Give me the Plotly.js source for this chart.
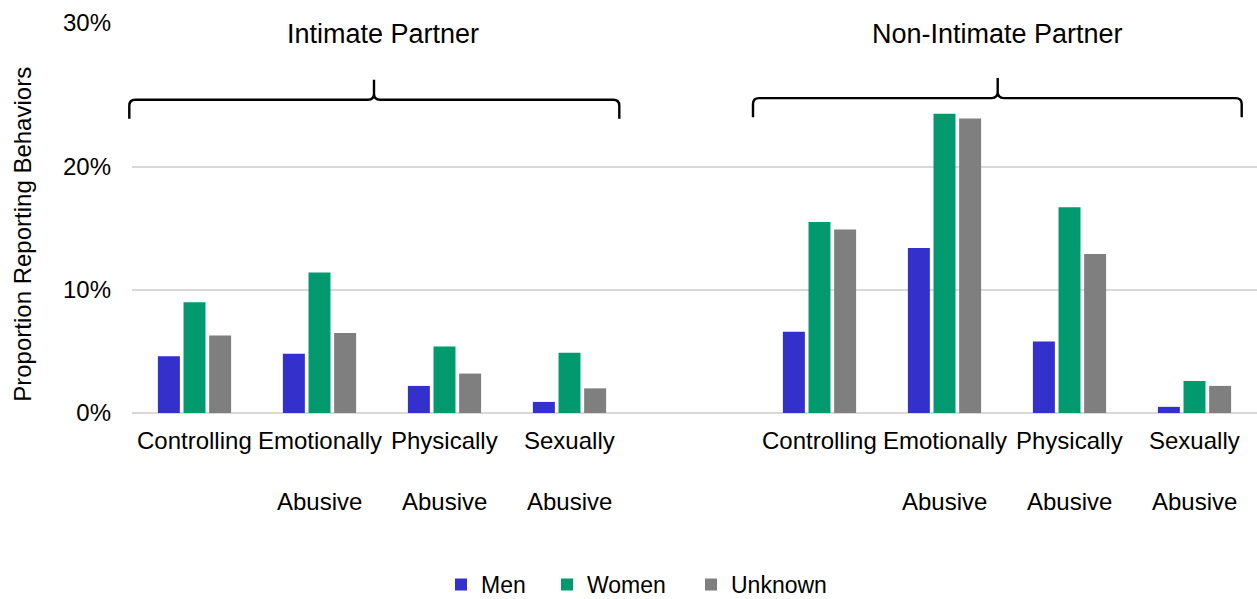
<!DOCTYPE html>
<html>
<head>
<meta charset="utf-8">
<script src="https://cdn.plot.ly/plotly-3.0.1.min.js"></script>
<style>
  html, body { margin: 0; padding: 0; background: #fff; }
  #chart { width: 1257px; height: 599px; }
</style>
</head>
<body>
<div id="chart"></div>
<script>
// ---- data ----
var groups = ["Intimate Partner", "Non-Intimate Partner"];
var categories = ["Controlling", "Emotionally Abusive", "Physically Abusive", "Sexually Abusive"];
var seriesNames = ["Men", "Women", "Unknown"];
var menIntimate = [4.6, 4.8, 2.2, 0.9];
var womenIntimate = [9.0, 11.4, 5.4, 4.9];
var unknownIntimate = [6.3, 6.5, 3.2, 2.0];
var menNonIntimate = [6.6, 13.4, 5.8, 0.5];
var womenNonIntimate = [15.5, 24.3, 16.7, 2.6];
var unknownNonIntimate = [14.9, 23.9, 12.9, 2.2];
var yTickVals = [0, 10, 20, 31.66];
var yTickText = ["0%", "10%", "20%", "30%"];
var yAxisTitle = "Proportion Reporting Behaviors";

// ---- styling ----
var colors = ["#3330CC", "#009A6E", "#7F7F7F"];
var FONT = "Liberation Sans, Arial, sans-serif";
var L = 132, T = 23.3, W = 1125, H = 389.4;
function px2x(p) { return (p - L) / W; }
function py2y(p) { return 1 - (p - T) / H; }

// category keys (with an empty spacer slot between the two groups)
var spacer = " ";
function key(g, c) { return groups[g] + " | " + c; }
var ipKeys = categories.map(function (c) { return key(0, c); });
var nipKeys = categories.map(function (c) { return key(1, c); });
var categoryOrder = ipKeys.concat([spacer], nipKeys);

var seriesValues = [
  menIntimate.concat(menNonIntimate),
  womenIntimate.concat(womenNonIntimate),
  unknownIntimate.concat(unknownNonIntimate)
];
var xAll = ipKeys.concat(nipKeys);

var legendWidths = [61, 99, 110];
var traces = seriesNames.map(function (n, i) {
  return {
    type: "bar",
    name: n,
    x: xAll,
    y: seriesValues[i],
    marker: { color: colors[i] },
    legendwidth: legendWidths[i],
    hoverinfo: "x+y"
  };
});

// category labels (two lines, wide line spacing as in the original)
var annotations = [];
xAll.forEach(function (k) {
  var cat = k.split(" | ")[1];
  var parts = cat.split(" ");
  annotations.push({
    xref: "x", yref: "paper", x: k, y: py2y(440.5), xanchor: "center", yanchor: "middle",
    text: parts[0], showarrow: false, font: { family: FONT, size: 24, color: "#000" }
  });
  if (parts.length > 1) {
    annotations.push({
      xref: "x", yref: "paper", x: k, y: py2y(501), xanchor: "center", yanchor: "middle",
      text: parts.slice(1).join(" "), showarrow: false, font: { family: FONT, size: 24, color: "#000" }
    });
  }
});
// group titles
var groupCenters = [382.5, 997.7];
groups.forEach(function (g, i) {
  annotations.push({
    xref: "paper", yref: "paper", x: px2x(groupCenters[i]), y: py2y(34), xanchor: "center", yanchor: "middle",
    text: g, showarrow: false, font: { family: FONT, size: 27, color: "#000" }
  });
});
// y axis title
annotations.push({
  xref: "paper", yref: "paper", x: px2x(21.7), y: py2y(234), xanchor: "center", yanchor: "middle",
  text: yAxisTitle, textangle: -90, showarrow: false, font: { family: FONT, size: 24, color: "#000" }
});

// curly brackets
function brace(x0, x1, xm, yh, ytip, yend) {
  var r = 6;
  var pts = [
    "M", px2x(x0), py2y(yend),
    "L", px2x(x0), py2y(yh + r),
    "Q", px2x(x0), py2y(yh), px2x(x0 + r), py2y(yh),
    "L", px2x(xm - r), py2y(yh),
    "Q", px2x(xm), py2y(yh), px2x(xm), py2y(yh - r),
    "L", px2x(xm), py2y(ytip),
    "L", px2x(xm), py2y(yh - r),
    "Q", px2x(xm), py2y(yh), px2x(xm + r), py2y(yh),
    "L", px2x(x1 - r), py2y(yh),
    "Q", px2x(x1), py2y(yh), px2x(x1), py2y(yh + r),
    "L", px2x(x1), py2y(yend)
  ];
  return {
    type: "path", xref: "paper", yref: "paper",
    path: pts.join(" "),
    line: { color: "#000", width: 2.4 }
  };
}
var shapes = [
  brace(129.3, 619.3, 374, 100, 80, 119),
  brace(753, 1241.7, 997.7, 98.3, 78.3, 117.5)
];

var layout = {
  width: 1257, height: 599,
  margin: { l: L, r: 0, t: T, b: 599 - T - H, pad: 0, autoexpand: false },
  paper_bgcolor: "#fff", plot_bgcolor: "#fff",
  barmode: "group", bargap: 0.385, bargroupgap: 0.143,
  font: { family: FONT, size: 24, color: "#000" },
  xaxis: {
    type: "category", categoryorder: "array", categoryarray: categoryOrder,
    range: [-0.5, categoryOrder.length - 0.5],
    showticklabels: false, showgrid: false, zeroline: false, showline: false, ticks: ""
  },
  yaxis: {
    range: [0, 31.66], tickvals: yTickVals, ticktext: yTickText,
    showgrid: true, gridcolor: "#D9D9D9", gridwidth: 2,
    zeroline: true, zerolinecolor: "#D9D9D9", zerolinewidth: 2,
    showline: false, ticks: "", ticklabelstandoff: 20,
    tickfont: { family: FONT, size: 24, color: "#000" }
  },
  showlegend: true,
  legend: {
    orientation: "h", x: px2x(441), xanchor: "left", y: py2y(584), yanchor: "middle",
    font: { family: FONT, size: 23, color: "#000" }, bgcolor: "rgba(0,0,0,0)", borderwidth: 0
  },
  annotations: annotations,
  shapes: shapes
};

Plotly.newPlot("chart", traces, layout, { displayModeBar: false, staticPlot: true });
</script>
</body>
</html>
